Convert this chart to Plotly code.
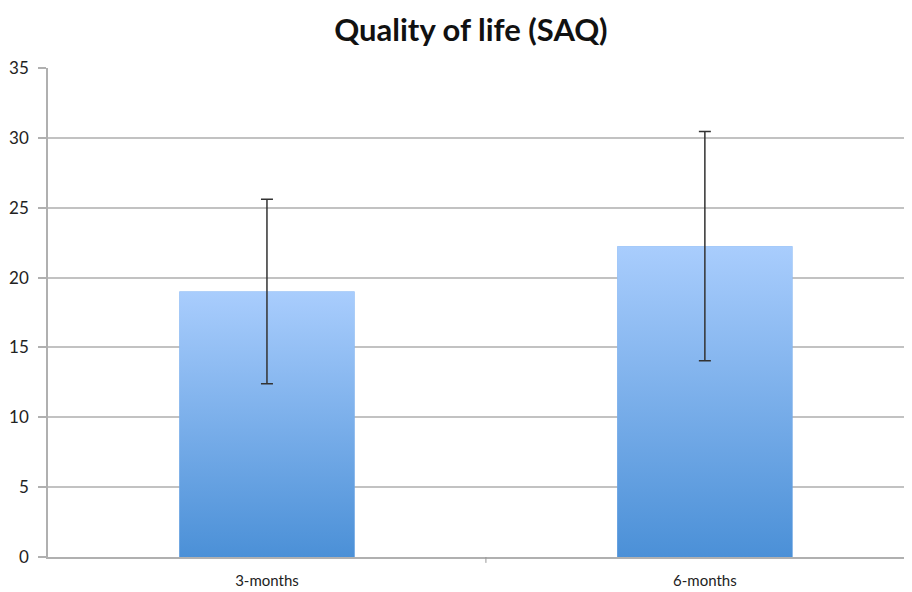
import plotly.graph_objects as go

categories = ["3-months", "6-months"]
means = [19.0, 22.25]
errors = [6.6, 8.2]
tick_vals = [0, 5, 10, 15, 20, 25, 30, 35]

BAR_W = 0.4
TOP_COLOR = "#a9cdfd"
BOTTOM_COLOR = "#4b90d7"
FONT = "Lato, Open Sans, sans-serif"

fig = go.Figure()

fig.add_trace(go.Bar(x=list(range(len(categories))), y=means, width=BAR_W,
                     marker=dict(color="#79adeb", line=dict(width=0)),
                     hoverinfo="skip", showlegend=False))

for i, v in enumerate(means):
    xs = [i - BAR_W / 2, i + BAR_W / 2, i + BAR_W / 2, i - BAR_W / 2, i - BAR_W / 2]
    ys = [0, 0, v, v, 0]
    fig.add_trace(go.Scatter(
        x=xs, y=ys, mode="lines", fill="toself",
        line=dict(width=0, color="rgba(0,0,0,0)"),
        fillgradient=dict(type="vertical", start=0, stop=v,
                          colorscale=[[0, BOTTOM_COLOR], [1, TOP_COLOR]]),
        hoverinfo="skip", showlegend=False))

fig.add_trace(go.Scatter(
    x=list(range(len(categories))), y=means, mode="markers",
    marker=dict(size=1, color="rgba(0,0,0,0)"),
    error_y=dict(type="data", array=errors, visible=True,
                 color="#333333", thickness=1.5, width=6),
    showlegend=False))

fig.update_layout(
    width=904, height=584,
    margin=dict(l=40, r=0, t=60, b=35),
    paper_bgcolor="white", plot_bgcolor="white",
    font=dict(family=FONT, color="#222222"),
    title=dict(text="<b>Quality of life (SAQ)</b>", x=0.512, xanchor="center",
               y=0.962, yanchor="middle",
               font=dict(size=31, color="#111111", family=FONT)),
    showlegend=False,
)

fig.update_xaxes(
    range=[-0.5, 1.473], automargin=False,
    tickmode="array", tickvals=[0, 1], ticktext=categories,
    showgrid=False, zeroline=False,
    showline=True, linecolor="#b0b0b0", linewidth=1.5,
    ticks="", ticklabelstandoff=9, tickfont=dict(size=15, color="#222222"),
)
fig.add_shape(type="line", xref="x", yref="paper", x0=0.5, x1=0.5, y0=0, y1=-0.012,
              line=dict(color="#999999", width=1))

fig.update_yaxes(
    range=[0, 35], tickvals=tick_vals, automargin=False,
    showgrid=True, gridcolor="#c2c2c2", gridwidth=1.5,
    zeroline=False,
    showline=True, linecolor="#b0b0b0", linewidth=1.5,
    ticks="outside", ticklen=8, tickcolor="#b0b0b0", tickwidth=1.5,
    ticklabelstandoff=6,
    tickfont=dict(size=17, color="#222222"),
)

fig.write_html("out.html")
